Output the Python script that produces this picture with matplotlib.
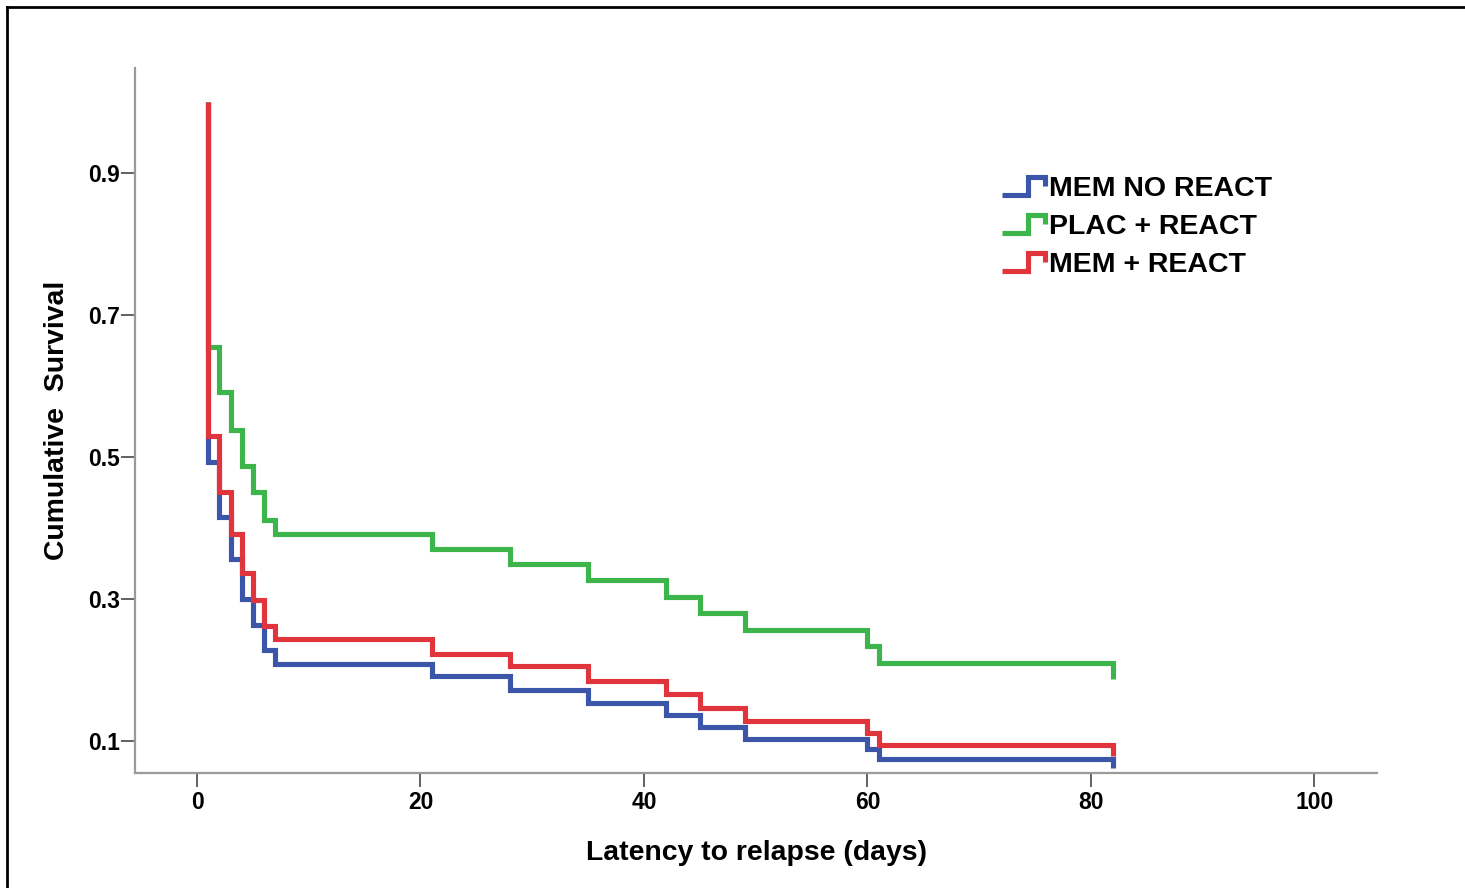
import matplotlib
matplotlib.use('Agg')
import matplotlib.pyplot as plt
from matplotlib.lines import Line2D
from matplotlib.legend_handler import HandlerBase

plt.rcParams['font.family'] = ['Liberation Sans', 'DejaVu Sans']

# event times (days) shared by the three groups
days = [1, 2, 3, 4, 5, 6, 7, 21, 28, 35, 42, 45, 49, 60, 61, 82]

# cumulative survival after each event
mem_no_react = [0.493, 0.415, 0.357, 0.300, 0.264, 0.228, 0.209, 0.191,
                0.172, 0.154, 0.137, 0.120, 0.103, 0.089, 0.074, 0.062]
plac_react = [0.655, 0.591, 0.538, 0.487, 0.451, 0.411, 0.391, 0.370,
              0.349, 0.327, 0.303, 0.280, 0.256, 0.234, 0.210, 0.187]
mem_react = [0.529, 0.451, 0.392, 0.336, 0.299, 0.262, 0.243, 0.223,
             0.205, 0.184, 0.166, 0.147, 0.128, 0.111, 0.094, 0.079]

labels = ['MEM NO REACT', 'PLAC + REACT', 'MEM + REACT']
colors = ['#3b55a8', '#3cb54a', '#e0353c']

xticks = [0, 20, 40, 60, 80, 100]
yticks = [0.1, 0.3, 0.5, 0.7, 0.9]


class StepHandler(HandlerBase):
    # little step-shaped legend key like the SPSS one
    def create_artists(self, legend, orig_handle, xdescent, ydescent,
                       width, height, fontsize, trans):
        x0 = -xdescent
        y0 = -ydescent
        xs = [x0, x0 + 0.62 * width, x0 + 0.62 * width, x0 + width, x0 + width]
        ys = [y0 + 0.05 * height, y0 + 0.05 * height, y0 + 0.95 * height,
              y0 + 0.95 * height, y0 + 0.5 * height]
        ln = Line2D(xs, ys, color=orig_handle.get_color(),
                    lw=orig_handle.get_linewidth(), solid_joinstyle='miter',
                    solid_capstyle='butt')
        ln.set_transform(trans)
        return [ln]


fig = plt.figure(figsize=(14.65, 8.88), dpi=100)
ax = fig.add_axes([135 / 1465, 115 / 888, (1377 - 135) / 1465, (773 - 68) / 888])

handles = []
for surv, lab, col in zip([mem_no_react, plac_react, mem_react], labels, colors):
    xs = [days[0]] + days
    ys = [1.0] + surv
    h, = ax.step(xs, ys, where='post', color=col, lw=3.7, label=lab,
                 solid_joinstyle='miter', solid_capstyle='butt')
    handles.append(h)

ax.set_xlim(-5.55, 105.6)
ax.set_ylim(0.0549, 1.048)
ax.set_xticks(xticks)
ax.set_yticks(yticks)
ax.set_xticklabels([str(t) for t in xticks], fontsize=16.5, fontweight='bold')
ax.set_yticklabels(['%.1f' % t for t in yticks], fontsize=16.5, fontweight='bold')
ax.tick_params(axis='both', length=10, width=1.3, color='#555555', pad=3)
ax.tick_params(axis='y', pad=1)

for s in ['top', 'right']:
    ax.spines[s].set_visible(False)
for s in ['left', 'bottom']:
    ax.spines[s].set_color('#9a9a9a')
    ax.spines[s].set_linewidth(1.6)

ax.set_xlabel('Latency to relapse (days)', fontsize=20.4, fontweight='bold', labelpad=19)
ax.set_ylabel('Cumulative  Survival', fontsize=20.4, fontweight='bold', labelpad=13)

fig.legend(handles=handles, labels=labels, loc='upper left',
           bbox_to_anchor=(1002 / 1465, 1 - 176 / 888), frameon=False,
           handlelength=1.5, handletextpad=0.15,
           labelspacing=0.42, borderpad=0, borderaxespad=0,
           handler_map={Line2D: StepHandler()}, prop={'weight': 'bold', 'size': 20.5})

# outer frame of the exported picture (top and left edges visible)
fig.add_artist(Line2D([7 / 1465, 1.0], [1 - 7 / 888, 1 - 7 / 888], color='black', lw=2,
                      transform=fig.transFigure))
fig.add_artist(Line2D([7 / 1465, 7 / 1465], [0, 1 - 7 / 888], color='black', lw=2,
                      transform=fig.transFigure))

fig.savefig('out.png', dpi=100)
